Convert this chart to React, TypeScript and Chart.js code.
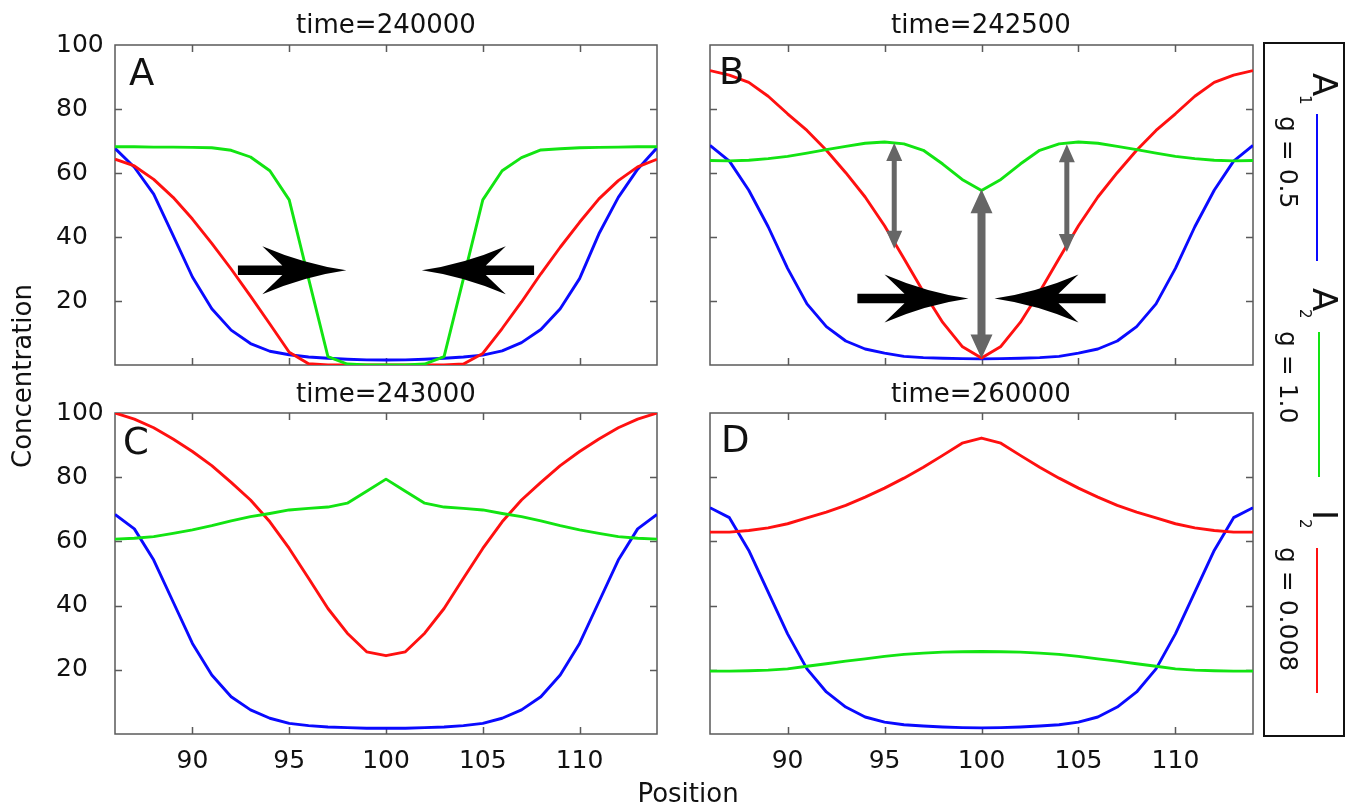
import React, { useEffect, useRef } from "react";
import { Chart, registerables } from "chart.js";

Chart.register(...registerables);

// ---------------- data ----------------
const POSITIONS = [86, 87, 88, 89, 90, 91, 92, 93, 94, 95, 96, 97, 98, 99, 100, 101, 102, 103, 104, 105, 106, 107, 108, 109, 110, 111, 112, 113, 114];
const X_TICKS = [90, 95, 100, 105, 110];
const Y_TICKS = [20, 40, 60, 80, 100];

// time = 240000
const A1_t240000 = [67.7, 61.8, 53.4, 40.5, 27.5, 17.6, 10.9, 6.7, 4.3, 3.2, 2.5, 2.1, 1.8, 1.6, 1.55, 1.6, 1.8, 2.1, 2.5, 3.1, 4.4, 7.0, 11.1, 17.6, 27.0, 41.0, 52.4, 61.2, 67.9];
const A2_t240000 = [68.2, 68.2, 68.1, 68.1, 68.0, 67.9, 67.1, 65.0, 60.7, 51.6, 27.0, 2.6, 0.3, 0, 0, 0, 0.3, 2.6, 27.0, 51.6, 60.7, 64.8, 67.2, 67.6, 67.9, 68.0, 68.1, 68.2, 68.2];
const I2_t240000 = [64.3, 62.2, 58.0, 52.4, 45.6, 38.0, 30.0, 21.5, 12.8, 4.0, 0.4, 0, 0, 0, 0, 0, 0, 0, 0.3, 3.6, 11.4, 19.7, 28.5, 36.8, 44.6, 51.9, 57.6, 61.9, 64.3];

// time = 242500
const A1_t242500 = [68.6, 63.7, 54.6, 43.2, 30.2, 19.1, 12.0, 7.5, 5.0, 3.7, 2.7, 2.3, 2.1, 2.0, 1.9, 2.0, 2.1, 2.3, 2.7, 3.7, 5.0, 7.5, 12.0, 19.1, 30.2, 43.2, 54.6, 63.7, 68.6];
const A2_t242500 = [63.9, 63.8, 64.0, 64.5, 65.2, 66.2, 67.3, 68.3, 69.3, 69.7, 69.1, 67.1, 62.8, 58.0, 54.5, 58.0, 62.8, 67.1, 69.1, 69.7, 69.3, 68.3, 67.3, 66.2, 65.2, 64.5, 64.0, 63.8, 63.9];
const I2_t242500 = [92.0, 90.6, 88.3, 84.0, 78.5, 73.3, 67.1, 60.1, 52.5, 43.5, 33.3, 22.9, 13.3, 5.8, 2.2, 5.8, 13.3, 22.9, 33.3, 43.5, 52.5, 60.1, 67.1, 73.3, 78.5, 84.0, 88.3, 90.6, 92.0];

// time = 243000
const A1_t243000 = [68.4, 63.9, 54.2, 41.2, 28.2, 18.4, 11.6, 7.5, 4.9, 3.3, 2.6, 2.2, 2.0, 1.8, 1.8, 1.8, 2.0, 2.2, 2.6, 3.3, 4.9, 7.5, 11.6, 18.4, 28.2, 41.2, 54.2, 63.9, 68.4];
const A2_t243000 = [60.7, 61.0, 61.5, 62.5, 63.6, 64.9, 66.4, 67.7, 68.7, 69.8, 70.3, 70.7, 71.9, 75.6, 79.4, 75.6, 71.9, 70.7, 70.3, 69.8, 68.7, 67.7, 66.4, 64.9, 63.6, 62.5, 61.5, 61.0, 60.7];
const I2_t243000 = [100.0, 98.1, 95.4, 91.9, 88.0, 83.6, 78.4, 72.9, 66.1, 57.8, 48.5, 39.1, 31.4, 25.6, 24.4, 25.6, 31.4, 39.1, 48.5, 57.8, 66.1, 72.9, 78.4, 83.6, 88.0, 91.9, 95.4, 98.1, 100.0];

// time = 260000
const A1_t260000 = [70.5, 67.4, 57.2, 44.2, 31.2, 20.3, 13.1, 8.4, 5.3, 3.7, 2.9, 2.5, 2.2, 2.0, 1.9, 2.0, 2.2, 2.5, 2.9, 3.7, 5.3, 8.4, 13.1, 20.3, 31.2, 44.2, 57.2, 67.4, 70.5];
const A2_t260000 = [19.6, 19.6, 19.7, 19.9, 20.3, 21.1, 21.9, 22.7, 23.4, 24.2, 24.8, 25.2, 25.5, 25.6, 25.7, 25.6, 25.5, 25.2, 24.8, 24.2, 23.4, 22.7, 21.9, 21.1, 20.3, 19.9, 19.7, 19.6, 19.6];
const I2_t260000 = [62.9, 62.9, 63.4, 64.2, 65.5, 67.3, 69.1, 71.2, 73.8, 76.6, 79.7, 83.1, 86.8, 90.6, 92.2, 90.6, 86.8, 83.1, 79.7, 76.6, 73.8, 71.2, 69.1, 67.3, 65.5, 64.2, 63.4, 62.9, 62.9];

// annotation arrows (data coordinates: [position, concentration])
const PUSH_ARROWS_A = [
  { tail: [92.35, 29.6], tip: [97.95, 29.6] },
  { tail: [107.65, 29.6], tip: [101.85, 29.6] },
];
const PUSH_ARROWS_B = [
  { tail: [93.6, 20.8], tip: [99.33, 20.8] },
  { tail: [106.4, 20.8], tip: [100.67, 20.8] },
];
const GAP_ARROWS_B = [
  { x: 100, low: 2.0, high: 54.9, big: true },
  { x: 95.5, low: 36.3, high: 69.4, big: false },
  { x: 104.4, low: 35.3, high: 69.0, big: false },
];

// ---------------- style ----------------
const FONT = '"DejaVu Sans", "Liberation Sans", sans-serif';
const BLUE = "#0a0aff";
const GREEN = "#12e412";
const RED = "#ff1010";
const ARROW_GRAY = "#666666";
const W = 1349;
const H = 810;

type Area = { left: number; top: number; right: number; bottom: number };

const framePlugin = {
  id: "frame",
  beforeDatasetsDraw(chart: any) {
    const { ctx, chartArea: a, scales } = chart;
    const xs = scales.x;
    const ys = scales.y;
    ctx.save();
    ctx.strokeStyle = "#5a5a5a";
    ctx.lineWidth = 1.5;
    ctx.strokeRect(a.left, a.top, a.right - a.left, a.bottom - a.top);
    ctx.beginPath();
    const tl = 7;
    for (const v of X_TICKS) {
      const px = Math.round(xs.getPixelForValue(v)) + 0.5;
      ctx.moveTo(px, a.bottom);
      ctx.lineTo(px, a.bottom - tl);
      ctx.moveTo(px, a.top);
      ctx.lineTo(px, a.top + tl);
    }
    for (const v of Y_TICKS) {
      if (v >= 100) continue;
      const py = Math.round(ys.getPixelForValue(v)) + 0.5;
      ctx.moveTo(a.left, py);
      ctx.lineTo(a.left + tl, py);
      ctx.moveTo(a.right, py);
      ctx.lineTo(a.right - tl, py);
    }
    ctx.stroke();
    ctx.restore();
  },
};

function blockArrow(ctx: CanvasRenderingContext2D, x0: number, x1: number, y: number) {
  const dir = Math.sign(x1 - x0);
  const L = 84, HH = 24, T = 4.8, D = 20;
  const bx = x1 - dir * L;
  ctx.beginPath();
  ctx.moveTo(x0, y - T);
  ctx.lineTo(bx + dir * D, y - T);
  ctx.lineTo(bx, y - HH);
  ctx.quadraticCurveTo(x1 - dir * L * 0.5, y - HH * 0.25, x1, y);
  ctx.quadraticCurveTo(x1 - dir * L * 0.5, y + HH * 0.25, bx, y + HH);
  ctx.lineTo(bx + dir * D, y + T);
  ctx.lineTo(x0, y + T);
  ctx.closePath();
  ctx.fill();
}

function doubleArrow(ctx: CanvasRenderingContext2D, x: number, yb: number, yt: number, big: boolean) {
  const w = big ? 8 : 5;
  const hw = big ? 22 : 16;
  const hl = big ? 24 : 18;
  ctx.beginPath();
  ctx.moveTo(x, yt);
  ctx.lineTo(x + hw / 2, yt + hl);
  ctx.lineTo(x + w / 2, yt + hl);
  ctx.lineTo(x + w / 2, yb - hl);
  ctx.lineTo(x + hw / 2, yb - hl);
  ctx.lineTo(x, yb);
  ctx.lineTo(x - hw / 2, yb - hl);
  ctx.lineTo(x - w / 2, yb - hl);
  ctx.lineTo(x - w / 2, yt + hl);
  ctx.lineTo(x - hw / 2, yt + hl);
  ctx.closePath();
  ctx.fill();
}

function makeArrowPlugin(push: any[], gaps: any[]) {
  return {
    id: "arrows",
    afterDatasetsDraw(chart: any) {
      const { ctx, scales } = chart;
      const xs = scales.x, ys = scales.y;
      ctx.save();
      ctx.fillStyle = ARROW_GRAY;
      for (const g of gaps) {
        doubleArrow(ctx, xs.getPixelForValue(g.x), ys.getPixelForValue(g.low), ys.getPixelForValue(g.high), g.big);
      }
      ctx.fillStyle = "#000";
      for (const p of push) {
        blockArrow(ctx, xs.getPixelForValue(p.tail[0]), xs.getPixelForValue(p.tip[0]), ys.getPixelForValue(p.tip[1]));
      }
      ctx.restore();
    },
  };
}

type PanelProps = {
  blue: number[];
  green: number[];
  red: number[];
  area: Area;
  yLabels: boolean;
  xLabels: boolean;
  push?: any[];
  gaps?: any[];
};

const Y_LABEL_LEFT = 56;
const X_AXIS_H = 50;

function Panel(props: PanelProps) {
  const ref = useRef<HTMLCanvasElement | null>(null);
  useEffect(() => {
    const { blue, green, red, area, yLabels, xLabels } = props;
    const toPts = (arr: number[]) => arr.map((v, i) => ({ x: POSITIONS[i], y: v }));
    const ds = (arr: number[], color: string) => ({
      data: toPts(arr),
      borderColor: color,
      backgroundColor: color,
      borderWidth: 2.9,
      pointRadius: 0,
      tension: 0,
      fill: false,
      borderJoinStyle: "round" as const,
    });
    const tickFont = { family: FONT, size: 25 };
    const chart = new Chart(ref.current as HTMLCanvasElement, {
      type: "line",
      data: { datasets: [ds(green, GREEN), ds(red, RED), ds(blue, BLUE)] as any },
      options: {
        animation: false,
        responsive: false,
        events: [],
        layout: {
          padding: {
            left: yLabels ? Y_LABEL_LEFT : area.left,
            top: area.top,
            right: W - area.right,
            bottom: xLabels ? H - area.bottom - X_AXIS_H : H - area.bottom,
          },
        },
        plugins: { legend: { display: false }, tooltip: { enabled: false }, title: { display: false } },
        scales: {
          x: {
            type: "linear",
            min: 86,
            max: 114,
            display: xLabels,
            grid: { display: false, drawTicks: false },
            border: { display: false },
            afterBuildTicks: (s: any) => {
              s.ticks = X_TICKS.map((v) => ({ value: v }));
            },
            afterFit: (s: any) => {
              s.height = xLabels ? X_AXIS_H : 0;
            },
            ticks: { font: tickFont, color: "#111", padding: 12, maxRotation: 0, autoSkip: false },
          },
          y: {
            type: "linear",
            min: 0,
            max: 100,
            display: yLabels,
            grid: { display: false, drawTicks: false },
            border: { display: false },
            afterBuildTicks: (s: any) => {
              s.ticks = Y_TICKS.map((v) => ({ value: v }));
            },
            afterFit: (s: any) => {
              s.width = yLabels ? area.left - Y_LABEL_LEFT : 0;
            },
            ticks: { font: tickFont, color: "#111", padding: 0, crossAlign: "far", autoSkip: false },
          },
        },
      } as any,
      plugins: [framePlugin, makeArrowPlugin(props.push || [], props.gaps || [])],
    });
    return () => chart.destroy();
  }, []);
  return (
    <canvas
      ref={ref}
      width={W}
      height={H}
      style={{ position: "absolute", left: 0, top: 0, width: W, height: H, pointerEvents: "none" }}
    />
  );
}

function Text(props: { x: number; y: number; size: number; children: React.ReactNode; center?: boolean }) {
  const { x, y, size, center } = props;
  return (
    <div
      style={{
        position: "absolute",
        left: center ? x - 200 : x,
        top: y,
        width: center ? 400 : undefined,
        textAlign: center ? "center" : "left",
        fontFamily: FONT,
        fontSize: size,
        lineHeight: 1,
        whiteSpace: "nowrap",
        color: "#111",
      }}
    >
      {props.children}
    </div>
  );
}

// text rotated 90deg clockwise; (x, y) = screen position of the text's top edge / start
function RotText(props: { x: number; y: number; size: number; children: React.ReactNode }) {
  return (
    <div
      style={{
        position: "absolute",
        left: props.x,
        top: props.y,
        transformOrigin: "0 0",
        transform: "rotate(90deg)",
        fontFamily: FONT,
        fontSize: props.size,
        lineHeight: 1,
        whiteSpace: "nowrap",
        color: "#111",
      }}
    >
      {props.children}
    </div>
  );
}

function VLine(props: { x: number; y0: number; y1: number; color: string }) {
  return (
    <div
      style={{
        position: "absolute",
        left: props.x - 1.4,
        top: props.y0,
        width: 2.8,
        height: props.y1 - props.y0,
        background: props.color,
      }}
    />
  );
}

const AREA_A: Area = { left: 115, top: 45, right: 657, bottom: 365 };
const AREA_B: Area = { left: 710, top: 45, right: 1253, bottom: 365 };
const AREA_C: Area = { left: 115, top: 413, right: 657, bottom: 734 };
const AREA_D: Area = { left: 710, top: 413, right: 1253, bottom: 734 };

export default function App() {
  return (
    <div style={{ position: "absolute", left: 0, top: 0, width: W, height: H, background: "#fff", overflow: "hidden" }}>
      <Panel blue={A1_t240000} green={A2_t240000} red={I2_t240000} area={AREA_A} yLabels={true} xLabels={false} push={PUSH_ARROWS_A} />
      <Panel blue={A1_t242500} green={A2_t242500} red={I2_t242500} area={AREA_B} yLabels={false} xLabels={false} push={PUSH_ARROWS_B} gaps={GAP_ARROWS_B} />
      <Panel blue={A1_t243000} green={A2_t243000} red={I2_t243000} area={AREA_C} yLabels={true} xLabels={true} />
      <Panel blue={A1_t260000} green={A2_t260000} red={I2_t260000} area={AREA_D} yLabels={false} xLabels={true} />

      {/* panel titles */}
      <Text x={386} y={11} size={26} center>time=240000</Text>
      <Text x={981} y={11} size={26} center>time=242500</Text>
      <Text x={386} y={380} size={26} center>time=243000</Text>
      <Text x={981} y={380} size={26} center>time=260000</Text>

      {/* panel letters */}
      <Text x={129} y={54} size={37}>A</Text>
      <Text x={719} y={53} size={37}>B</Text>
      <Text x={123} y={423} size={37}>C</Text>
      <Text x={721} y={421} size={37}>D</Text>

      {/* axis titles */}
      <div
        style={{
          position: "absolute",
          left: 22 - 150,
          top: 376 - 13,
          width: 300,
          height: 26,
          textAlign: "center",
          transform: "rotate(-90deg)",
          transformOrigin: "50% 50%",
          fontFamily: FONT,
          fontSize: 26,
          lineHeight: 1,
          whiteSpace: "nowrap",
          color: "#111",
        }}
      >
        Concentration
      </div>
      <Text x={688} y={780} size={26} center>Position</Text>

      {/* legend */}
      <div
        style={{
          position: "absolute",
          left: 1263,
          top: 42,
          width: 82,
          height: 695,
          border: "2px solid #111",
          boxSizing: "border-box",
        }}
      />
      <RotText x={1342} y={73} size={34}>A</RotText>
      <RotText x={1311.8} y={95} size={15}>1</RotText>
      <VLine x={1317} y0={114} y1={261} color={BLUE} />
      <RotText x={1301} y={115.5} size={25}>g = 0.5</RotText>

      <RotText x={1342} y={288} size={34}>A</RotText>
      <RotText x={1311.8} y={309} size={15}>2</RotText>
      <VLine x={1319} y0={332} y1={477} color={GREEN} />
      <RotText x={1301} y={330.5} size={25}>g = 1.0</RotText>

      <RotText x={1342} y={509.6} size={34}>I</RotText>
      <RotText x={1311.8} y={519} size={15}>2</RotText>
      <VLine x={1317} y0={548} y1={693} color={RED} />
      <RotText x={1301} y={546.5} size={25}>g = 0.008</RotText>
    </div>
  );
}
